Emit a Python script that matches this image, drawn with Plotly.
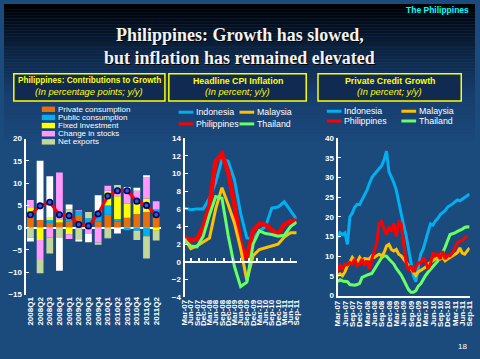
import plotly.graph_objects as go
import pandas as pd

W, H = 480, 359

# ---------------- Data ----------------
quarters = ["2008Q1", "2008Q2", "2008Q3", "2008Q4", "2009Q1", "2009Q2", "2009Q3",
            "2009Q4", "2010Q1", "2010Q2", "2010Q3", "2010Q4", "2011Q1", "2011Q2"]
private_cons = [3.6, 1.75, 1.1, 1.15, 1.45, 2.85, 0.5, 1.4, 2.9, 1.4, 2.2, 3.05, 3.5, 3.4]
public_cons = [0.0, 0.0, 0.65, 0.0, 0.5, 0.85, 1.6, 1.6, 2.1, 0.55, -0.6, -0.7, -1.9, 0.7]
fixed_inv = [0.8, -2.75, 0.65, 0.6, -1.5, 0.0, 0.0, 0.6, 3.3, 5.1, 3.15, 2.9, 3.05, -0.7]
change_stocks = [1.8, -4.5, -2.2, 10.65, -1.05, 0.2, -1.4, -3.35, 1.1, 1.35, 2.95, 2.35, 4.7, 1.85]
net_exports = [-2.25, -2.95, -3.6, -2.3, 2.2, -2.6, 1.4, -0.5, -2.2, 1.2, 0.0, -2.05, -5.0, -2.2]
discrepancy = [-0.85, 13.25, 9.15, -7.35, 1.05, -0.5, -1.85, 3.65, -0.2, -1.3, 0.85, 0.65, 0.5, 0.0]
gdp_growth = [2.9, 4.9, 5.7, 2.9, 2.7, 0.7, 0.4, 3.1, 7.1, 8.3, 8.3, 5.95, 5.0, 2.9]

cpi_quarters = ["Mar-07", "Jun-07", "Sep-07", "Dec-07", "Mar-08", "Jun-08", "Sep-08",
                "Dec-08", "Mar-09", "Jun-09", "Sep-09", "Dec-09", "Mar-10", "Jun-10",
                "Sep-10", "Dec-10", "Mar-11", "Jun-11", "Sep-11"]
cpi_indonesia = [6.1, 5.9, 6.0, 6.0, 7.2, 9.0, 11.6, 11.4, 9.3, 5.5, 2.7, 2.6, 3.5,
                 4.0, 6.1, 6.2, 6.8, 5.8, 4.8]
cpi_malaysia = [2.6, 1.5, 1.8, 2.3, 2.7, 6.0, 8.4, 6.5, 4.4, 1.5, -2.1, 0.7, 1.4,
                1.6, 1.8, 2.0, 2.8, 3.3, 3.3]
cpi_philippines = [2.8, 2.4, 2.6, 3.9, 6.4, 11.4, 12.2, 10.2, 6.5, 2.0, 0.4, 3.5, 4.3,
                   4.2, 3.6, 3.1, 4.2, 4.6, 4.7]
cpi_thailand = [2.4, 1.8, 1.7, 2.9, 5.3, 7.4, 7.2, 3.0, -0.5, -2.8, -2.3, 2.0, 3.5,
                3.2, 3.1, 2.9, 3.0, 4.0, 4.5]

credit_months = list(pd.date_range("2007-03-01", periods=55, freq="MS").strftime("%b-%y"))
credit_indonesia = [14.6, 16.0, 15.5, 15.9, 13.0, 20.0, 21.0, 22.5, 23.2, 23.1, 24.4, 25.6,
                    26.8, 28.5, 30.0, 30.8, 31.5, 32.1, 33.0, 34.5, 36.7, 31.5, 30.3, 28.7,
                    26.8, 23.5, 20.4, 17.9, 15.4, 12.0, 8.0, 5.0, 3.5, 7.5, 10.5, 11.8,
                    14.3, 16.2, 18.2, 17.9, 19.0, 19.6, 20.6, 21.0, 21.6, 22.5, 22.8, 23.3,
                    23.8, 24.3, 24.1, 24.6, 25.1, 25.4, 25.8]
credit_malaysia = [5.1, 5.5, 5.0, 6.0, 7.6, 8.4, 9.7, 8.8, 8.5, 9.7, 8.8, 9.4, 9.3, 9.3,
                   10.1, 9.7, 10.1, 10.5, 10.1, 10.9, 12.6, 13.0, 11.7, 11.3, 11.7, 10.5,
                   10.1, 9.3, 8.4, 7.6, 6.8, 6.0, 5.1, 6.0, 6.4, 6.8, 7.2, 8.0, 8.4, 8.8,
                   9.3, 10.1, 9.3, 9.7, 8.8, 9.3, 9.7, 10.1, 10.5, 10.9, 12.1, 10.8, 10.5,
                   11.3, 12.1]
credit_philippines = [6.0, 7.6, 6.9, 8.0, 7.8, 8.4, 8.0, 9.3, 7.6, 8.0, 9.3, 7.6, 8.8, 6.8,
                      9.3, 11.7, 13.4, 18.3, 18.8, 17.0, 15.5, 17.5, 16.3, 18.3, 15.0, 18.8,
                      18.3, 13.4, 8.4, 6.4, 7.6, 6.0, 7.2, 8.4, 8.2, 9.7, 8.5, 6.8, 8.0,
                      10.9, 10.1, 10.5, 9.3, 11.3, 9.3, 10.1, 10.1, 10.9, 12.1, 13.4, 13.8,
                      14.0, 14.6, 15.0, None]
credit_thailand = [3.5, 4.0, 3.7, 3.6, 3.5, 2.8, 2.6, 2.6, 2.8, 3.1, 4.6, 5.0, 5.2, 5.4,
                   5.6, 6.6, 7.6, 8.6, 9.6, 10.1, 10.0, 9.3, 8.6, 8.0, 6.9, 6.1, 5.2, 4.0,
                   2.6, 1.5, 0.8, 0.8, 1.2, 2.4, 3.0, 4.2, 5.1, 5.9, 6.7, 7.4, 8.0, 8.8,
                   10.0, 10.9, 12.3, 14.2, 15.5, 15.7, 15.9, 16.3, 16.5, 16.9, 17.3, 17.5,
                   17.4]

# ---------------- Styling ----------------
C_PRIV, C_PUB, C_FIX, C_STK, C_NET = "#E8700C", "#00B0F0", "#FFFF00", "#FF99FF", "#C4D79B"
C_IDN, C_MYS, C_PHL, C_THA = "#00B0F0", "#FFC000", "#FF0000", "#66FF66"
TICKFONT = dict(family="Liberation Sans", size=8, color="white", weight="bold")


def px(x):
    return x / W


def py(y):
    return 1 - y / H


fig = go.Figure()

# Panel 1: stacked bars
bar_series = [("Private consumption", private_cons, C_PRIV),
              ("Public consumption", public_cons, C_PUB),
              ("Fixed investment", fixed_inv, C_FIX),
              ("Change in stocks", change_stocks, C_STK),
              ("Net exports", net_exports, C_NET),
              ("Statistical discrepancy", discrepancy, "#FFFFFF")]
for name, vals, col in bar_series:
    fig.add_trace(go.Bar(x=quarters, y=vals, name=name, marker=dict(color=col, line_width=0),
                         xaxis="x", yaxis="y", showlegend=False))
fig.add_trace(go.Scatter(x=quarters, y=gdp_growth, mode="lines+markers", name="GDP growth",
                         line=dict(color="#FF0000", width=3),
                         marker=dict(size=5.5, color="#3A5CB0", line=dict(color="#000070", width=1.6)),
                         xaxis="x", yaxis="y", showlegend=False))

# Panel 2: CPI
for name, vals, col, wd in [("Indonesia", cpi_indonesia, C_IDN, 3),
                            ("Philippines", cpi_philippines, C_PHL, 4.5),
                            ("Malaysia", cpi_malaysia, C_MYS, 3),
                            ("Thailand", cpi_thailand, C_THA, 3)]:
    fig.add_trace(go.Scatter(x=cpi_quarters, y=vals, mode="lines", name=name,
                             line=dict(color=col, width=wd), xaxis="x2", yaxis="y2",
                             showlegend=False))

# Panel 3: credit
for name, vals, col in [("Indonesia", credit_indonesia, C_IDN),
                        ("Thailand", credit_thailand, C_THA),
                        ("Malaysia", credit_malaysia, C_MYS),
                        ("Philippines", credit_philippines, C_PHL)]:
    fig.add_trace(go.Scatter(x=credit_months, y=vals, mode="lines", name=name,
                             line=dict(color=col, width=3), xaxis="x3", yaxis="y3",
                             showlegend=False))

# ---------------- Axes ----------------
d1x = [px(22), px(160)]
d1y = [py(298), py(138)]
d2x = [px(184), px(298.3)]
d2y = [py(300.7), py(137.7)]
d3x = [px(340), px(474.5)]
d3y = [py(299), py(137.7)]
zero2 = d2y[0] + (0 - (-4)) / 18 * (d2y[1] - d2y[0])

common_y = dict(showgrid=False, showline=True, linecolor="white", linewidth=2,
                ticks="inside", ticklen=3, tickcolor="white", tickwidth=1,
                tickfont=TICKFONT, zeroline=False)
fig.update_layout(
    xaxis=dict(domain=d1x, anchor="y", type="category", range=[-0.5, 13.5],
               tickangle=-90, tickfont=TICKFONT, showgrid=False, showline=False,
               ticks="", zeroline=False, tickmode="array", tickvals=quarters,
               ticktext=quarters),
    yaxis=dict(domain=d1y, anchor="x", range=[-15, 20], dtick=5, **{**common_y,
               "zeroline": True}, zerolinecolor="white", zerolinewidth=2),
    xaxis2=dict(domain=d2x, anchor="y2", type="category", range=[0, 18],
                tickangle=-90, tickfont=TICKFONT, showgrid=False, showline=False,
                ticks="", zeroline=False, tickmode="array", tickvals=cpi_quarters,
                ticktext=cpi_quarters),
    yaxis2=dict(domain=d2y, anchor="x2", range=[-4, 14], dtick=2, **common_y),
    xaxis4=dict(domain=d2x, overlaying="x2", anchor="free", position=zero2,
                range=[0, 18], showline=True, linecolor="white", linewidth=2,
                ticks="inside", ticklen=3, tickcolor="white", tickwidth=1.5,
                tick0=1, dtick=4 / 3, showticklabels=False, showgrid=False, zeroline=False),
    xaxis3=dict(domain=d3x, anchor="y3", type="category", range=[0, 54],
                tickangle=-90, tickfont=TICKFONT, showgrid=False, showline=True,
                linecolor="white", linewidth=2, ticks="", zeroline=False,
                tickmode="array", tickvals=credit_months[::3], ticktext=credit_months[::3]),
    yaxis3=dict(domain=d3y, anchor="x3", range=[0, 40], dtick=5, **common_y),
)
# dummy trace so that xaxis4 is rendered
fig.add_trace(go.Scatter(x=[None], y=[None], xaxis="x4", yaxis="y2", showlegend=False,
                         hoverinfo="skip"))

fig.update_layout(barmode="relative", bargap=0.3, width=W, height=H,
                  margin=dict(l=0, r=0, t=0, b=0), showlegend=False,
                  paper_bgcolor="#1B4A7D", plot_bgcolor="rgba(0,0,0,0)")

# ---------------- Background gradient ----------------
shapes = []
stops = [(0, (0, 0, 0)), (15, (2, 8, 18)), (45, (12, 34, 62)), (90, (22, 60, 106)),
         (140, (27, 72, 123))]
step = 3
y = 0
while y < 140:
    yc = y + step / 2
    for i in range(len(stops) - 1):
        if stops[i][0] <= yc <= stops[i + 1][0]:
            t = (yc - stops[i][0]) / (stops[i + 1][0] - stops[i][0])
            c = [round(a + (b - a) * t) for a, b in zip(stops[i][1], stops[i + 1][1])]
            break
    shapes.append(dict(type="rect", xref="paper", yref="paper", x0=0, x1=1,
                       y0=py(y + step), y1=py(y), fillcolor=f"rgb({c[0]},{c[1]},{c[2]})",
                       line_width=0, layer="below"))
    y += step

# header boxes
for x0, x1 in [(10, 164), (168, 308), (320, 466)]:
    shapes.append(dict(type="rect", xref="paper", yref="paper", x0=px(x0), x1=px(x1),
                       y0=py(99.5), y1=py(71.5), fillcolor="#112A52",
                       line=dict(color="#FFFF00", width=1.5), layer="below"))

annotations = []


def txt(x, y, s, size=8, color="white", anchor="left", family="Liberation Sans",
        weight="normal"):
    annotations.append(dict(x=px(x), y=py(y), xref="paper", yref="paper", text=s,
                            showarrow=False, xanchor=anchor, yanchor="middle",
                            font=dict(family=family, size=size, color=color, weight=weight)))


# legend 1
leg1 = [("Private consumption", C_PRIV), ("Public consumption", C_PUB),
        ("Fixed investment", C_FIX), ("Change in stocks", C_STK), ("Net exports", C_NET)]
for i, (name, col) in enumerate(leg1):
    yy = 108 + i * 8.35
    shapes.append(dict(type="rect", xref="paper", yref="paper", x0=px(38.5), x1=px(52),
                       y0=py(yy + 2.8), y1=py(yy - 2.8), fillcolor=col, line_width=0))
    txt(53, yy, name, size=8)

# legends 2 and 3
for (xa, xb, ya, yb) in [(178, 240, 111, 123), (329, 405, 110, 120)]:
    for name, col, xx, yy in [("Indonesia", C_IDN, xa, ya), ("Malaysia", C_MYS, xb, ya),
                              ("Philippines", C_PHL, xa, yb), ("Thailand", C_THA, xb, yb)]:
        shapes.append(dict(type="line", xref="paper", yref="paper", x0=px(xx),
                           x1=px(xx + 15), y0=py(yy), y1=py(yy),
                           line=dict(color=col, width=3)))
        txt(xx + 15.5, yy, name, size=8.8)

# headers
for cx, t1, t2, s1 in [(87, "Philippines: Contributions to Growth", "(In percentage points; y/y)", 8.2),
                       (238, "Headline CPI Inflation", "(In percent; y/y)", 8.8),
                       (393, "Private Credit Growth", "(In percent; y/y)", 8.8)]:
    txt(cx, 78.5, t1, size=s1, color="#FFFF00", anchor="center", weight="bold")
    txt(cx, 90.5, "<i>" + t2 + "</i>", size=9.3, color="#FFFF00", anchor="center")

# title with shadow
for dx, dy, col in [(1.2, 1.2, "#000000"), (0, 0, "#F2F2F2")]:
    txt(240 + dx, 32 + dy, "Philippines: Growth has slowed,", size=18, color=col,
        anchor="center", family="Liberation Serif", weight="bold")
    txt(240 + dx, 55 + dy, "but inflation has remained elevated", size=18, color=col,
        anchor="center", family="Liberation Serif", weight="bold")

txt(476, 6, "The Philippines", size=8.5, color="#00FFFF", anchor="right", weight="bold")
txt(474, 351, "18", size=8, color="white", anchor="right")

fig.update_layout(shapes=shapes, annotations=annotations)
fig.write_html("out.html", config={"displayModeBar": False, "staticPlot": True},
               post_script="document.body.style.margin='0';document.body.style.overflow='hidden';")
